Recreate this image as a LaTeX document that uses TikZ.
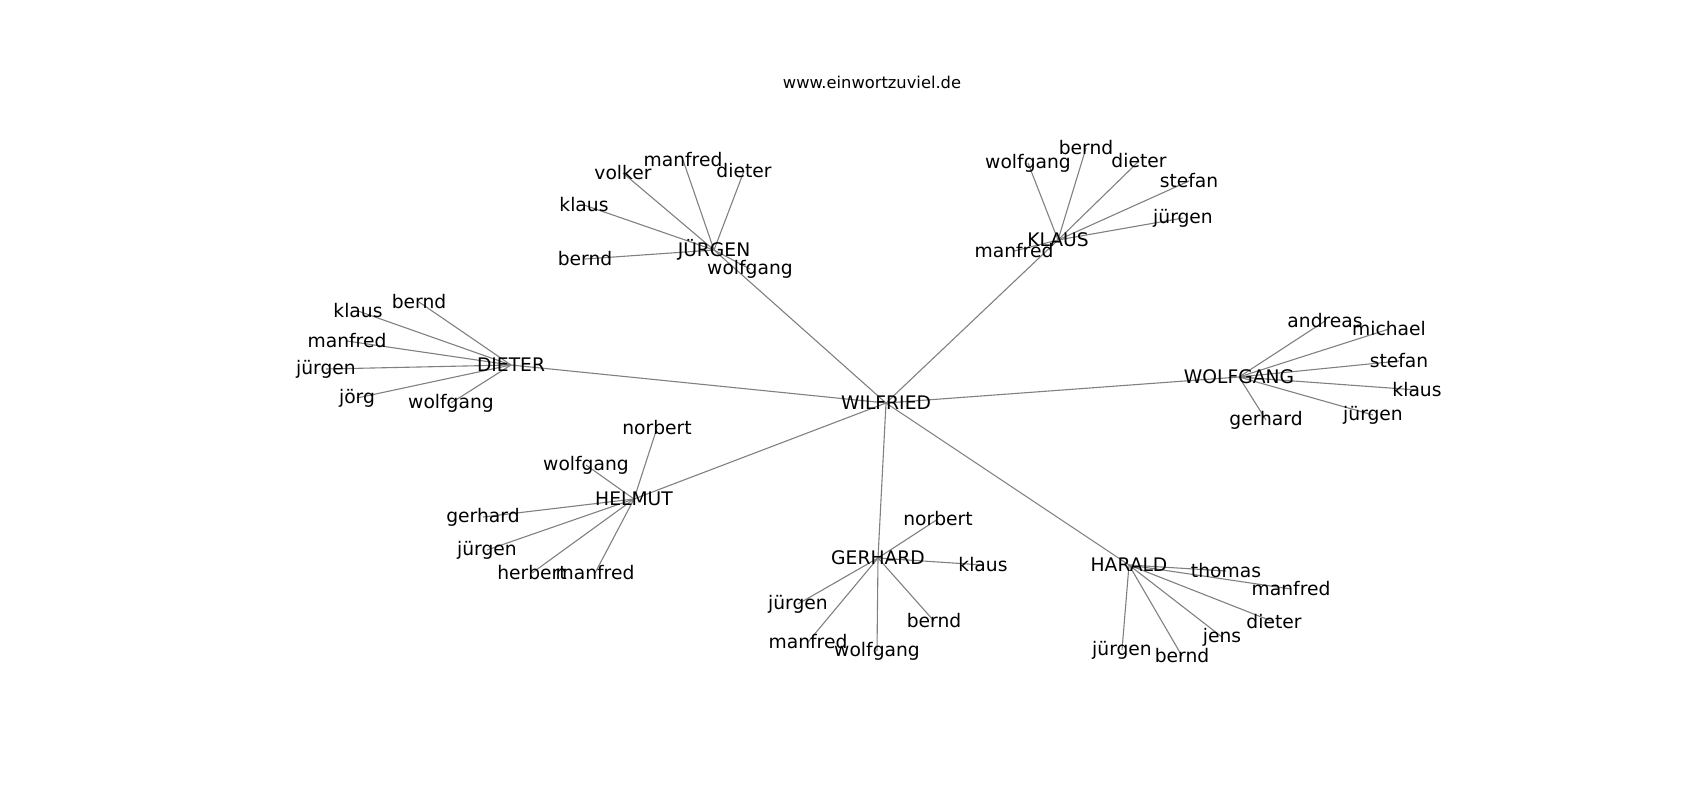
\documentclass[tikz,border=0pt]{standalone}
\usepackage{fontspec}
\setmainfont{DejaVu Sans}
\pgfdeclarelayer{background}
\pgfsetlayers{background,main}
\begin{document}
\begin{tikzpicture}[x=1bp,y=-1bp,
  lbl/.style={inner sep=0pt,anchor=center,font=\fontsize{18.7bp}{20bp}\selectfont},
  ttl/.style={inner sep=0pt,anchor=center,font=\fontsize{16.3bp}{18bp}\selectfont},
  edge/.style={draw=black!50,line width=1.1bp}]
\useasboundingbox (0,0) rectangle (1700,800);
\node[ttl] (title) at (872,82) {www.einwortzuviel.de};
% hubs
\node[lbl] (W) at (886,403) {WILFRIED};
\node[lbl] (D) at (511,365) {DIETER};
\node[lbl] (J) at (714,250) {JÜRGEN};
\node[lbl] (K) at (1058,240) {KLAUS};
\node[lbl] (WO) at (1239,377) {WOLFGANG};
\node[lbl] (H) at (634,499) {HELMUT};
\node[lbl] (G) at (878,558) {GERHARD};
\node[lbl] (HA) at (1129,565) {HARALD};
% JUERGEN leaves
\node[lbl] (j1) at (623,173) {volker};
\node[lbl] (j2) at (683,160) {manfred};
\node[lbl] (j3) at (744,171) {dieter};
\node[lbl] (j4) at (584,205) {klaus};
\node[lbl] (j5) at (585,259) {bernd};
\node[lbl] (j6) at (750,269) {wolfgang};
% KLAUS leaves
\node[lbl] (k1) at (1028,163) {wolfgang};
\node[lbl] (k2) at (1086,148) {bernd};
\node[lbl] (k3) at (1139,161) {dieter};
\node[lbl] (k4) at (1189,181) {stefan};
\node[lbl] (k5) at (1183,218) {jürgen};
\node[lbl] (k6) at (1014,251) {manfred};
% DIETER leaves
\node[lbl] (d1) at (419,302) {bernd};
\node[lbl] (d2) at (358,311) {klaus};
\node[lbl] (d3) at (347,341) {manfred};
\node[lbl] (d4) at (326,369) {jürgen};
\node[lbl] (d5) at (357,398) {jörg};
\node[lbl] (d6) at (451,403) {wolfgang};
% WOLFGANG leaves
\node[lbl] (w1) at (1325,321) {andreas};
\node[lbl] (w2) at (1389,329) {michael};
\node[lbl] (w3) at (1399,361) {stefan};
\node[lbl] (w4) at (1417,390) {klaus};
\node[lbl] (w5) at (1373,415) {jürgen};
\node[lbl] (w6) at (1266,420) {gerhard};
% HELMUT leaves
\node[lbl] (h1) at (657,428) {norbert};
\node[lbl] (h2) at (586,465) {wolfgang};
\node[lbl] (h3) at (483,517) {gerhard};
\node[lbl] (h4) at (487,550) {jürgen};
\node[lbl] (h5) at (532,573) {herbert};
\node[lbl] (h6) at (595,573) {manfred};
% GERHARD leaves
\node[lbl] (g1) at (938,519) {norbert};
\node[lbl] (g2) at (983,565) {klaus};
\node[lbl] (g3) at (934,621) {bernd};
\node[lbl] (g4) at (877,651) {wolfgang};
\node[lbl] (g5) at (808,642) {manfred};
\node[lbl] (g6) at (798,604) {jürgen};
% HARALD leaves
\node[lbl] (a1) at (1226,571) {thomas};
\node[lbl] (a2) at (1291,589) {manfred};
\node[lbl] (a3) at (1274,622) {dieter};
\node[lbl] (a4) at (1222,637) {jens};
\node[lbl] (a5) at (1182,656) {bernd};
\node[lbl] (a6) at (1122,650) {jürgen};
\begin{pgfonlayer}{background}
\foreach \h in {D,J,K,WO,H,G,HA} \path[edge] (W.center) -- (\h.center);
\foreach \l in {j1,j2,j3,j4,j5,j6} \path[edge] (J.center) -- (\l.center);
\foreach \l in {k1,k2,k3,k4,k5,k6} \path[edge] (K.center) -- (\l.center);
\foreach \l in {d1,d2,d3,d4,d5,d6} \path[edge] (D.center) -- (\l.center);
\foreach \l in {w1,w2,w3,w4,w5,w6} \path[edge] (WO.center) -- (\l.center);
\foreach \l in {h1,h2,h3,h4,h5,h6} \path[edge] (H.center) -- (\l.center);
\foreach \l in {g1,g2,g3,g4,g5,g6} \path[edge] (G.center) -- (\l.center);
\foreach \l in {a1,a2,a3,a4,a5,a6} \path[edge] (HA.center) -- (\l.center);
\end{pgfonlayer}
\end{tikzpicture}
\end{document}
